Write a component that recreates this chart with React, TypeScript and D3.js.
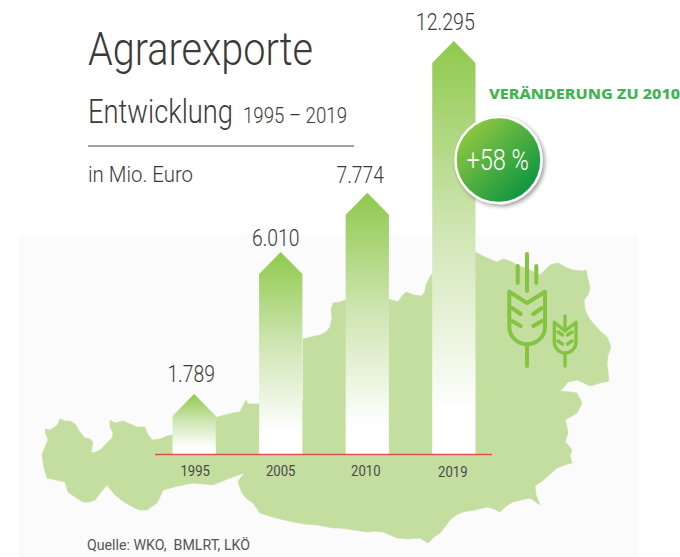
import React from "react";
import * as d3 from "d3";

const years = ["1995", "2005", "2010", "2019"];
const exportValues = [1789, 6010, 7774, 12295];
const valueLabels = ["1.789", "6.010", "7.774", "12.295"];
const changeLabel = "+58 %";

const mapOutline: [number, number][] = [
  [45,429],[50,430],[55,427],[58,424],[60,419],[65,421],[70,421],[75,424],[78,429],[80,432],[85,438],[90,439],[93,442],[92,447],[91,453],[96,452],[100,450],[104,446],[108,442],[112,438],[113,433],[110,427],[110,420],[115,423],[123,421],[130,424],[137,427],[145,427],[147,433],[152,440],[160,439],[167,436],[172,435],[217,417],[225,415],[233,413],[240,412],[243,406],[246,400],[248,404],[259,404],[303,401],[308,407],[307,420],[303,427],[303,339],[311,337],[320,335],[326,332],[330,327],[332,318],[331,310],[333,303],[340,302],[345,300],[389,299],[398,302],[402,296],[406,292],[414,295],[422,296],[425,291],[426,285],[431,275],[475,252],[485,257],[497,262],[503,259],[510,261],[517,265],[530,270],[540,275],[545,270],[550,265],[558,263],[565,267],[573,270],[582,271],[586,270],[588,279],[590,288],[588,295],[584,300],[585,310],[589,318],[593,323],[600,331],[607,337],[611,347],[608,355],[607,363],[608,372],[609,381],[600,383],[590,386],[584,383],[577,380],[568,382],[564,387],[560,391],[570,392],[577,393],[582,403],[579,409],[577,413],[565,420],[567,427],[568,433],[565,442],[569,446],[572,450],[570,456],[572,463],[565,465],[557,468],[547,477],[541,482],[535,486],[536,495],[540,505],[530,498],[521,500],[513,502],[506,506],[500,512],[494,509],[487,507],[475,510],[463,512],[456,515],[450,520],[445,527],[440,533],[434,537],[428,543],[420,538],[408,539],[397,538],[390,535],[383,532],[375,531],[367,532],[354,530],[340,528],[333,528],[317,525],[305,524],[293,522],[276,518],[260,513],[253,503],[247,499],[242,493],[238,482],[241,477],[245,473],[238,475],[230,478],[213,485],[203,484],[193,483],[178,486],[163,490],[160,497],[157,503],[147,510],[140,510],[133,507],[124,502],[115,495],[111,490],[107,485],[101,492],[95,500],[89,502],[83,502],[75,497],[68,492],[65,482],[56,480],[47,478],[44,468],[42,455],[45,447],[48,440],[46,434],
];

const W = 680;
const H = 557;
const x = d3.scaleBand<string>().domain(years).range([172.5, 475.5]).paddingInner(0.5).paddingOuter(0);
const y = d3.scaleLinear().domain([0, 12295]).range([454, 41]);
const shoulder = 22;
const narrow = "'Roboto', sans-serif";
const ink = "#3a3a3a";

const valueShift = [-3, -5, -7, -8.5];
const valueGap = [12, 6, 10, 11];
const tickShift = [1, 0, -1.5, -1];

const mapPath = d3.line().curve(d3.curveLinear)(mapOutline) + "Z";
const wheat = "#85c441";

function T(p: any) {
  const { len, children, ...rest } = p;
  return (
    <text fontFamily={narrow} fontWeight={300} fill={ink} textLength={len} lengthAdjust="spacingAndGlyphs" {...rest}>
      {children}
    </text>
  );
}

export default function App() {
  const bw = x.bandwidth();
  return (
    <svg width={W} height={H} viewBox={`0 0 ${W} ${H}`} style={{ position: "absolute", left: 0, top: 0, display: "block", background: "#fff" }}>
      <defs>
        <linearGradient id="bar" x1="0" y1="0" x2="0" y2="1">
          <stop offset="0" stopColor="#8fc94c" />
          <stop offset="0.45" stopColor="#cfe5b2" />
          <stop offset="0.9" stopColor="#ffffff" />
          <stop offset="1" stopColor="#ffffff" />
        </linearGradient>
        <linearGradient id="badge" x1="0.15" y1="0.15" x2="0.85" y2="0.85">
          <stop offset="0" stopColor="#8cc63f" />
          <stop offset="1" stopColor="#0f9640" />
        </linearGradient>
        <filter id="shadow" x="-20%" y="-20%" width="150%" height="150%">
          <feDropShadow dx="2" dy="2" stdDeviation="2" floodColor="#000" floodOpacity="0.4" />
        </filter>
      </defs>

      <rect x={19} y={235} width={619} height={322} fill="#fbfbfb" />
      <path d={mapPath} fill="#c4dea0" stroke="#c4dea0" strokeWidth={0.6} strokeLinejoin="round" />

      <g stroke={wheat} fill="none" strokeLinecap="round" strokeLinejoin="round">
        <g strokeWidth={4}>
          <path d="M527 254V291M517.7 266V283M536.3 266V283" />
          <path d="M509.3 291.7V327A17.7 17 0 0 0 545 327V291.7L527 303Z" />
          <path d="M512 308L520.7 314M512 321L520.7 326M542 308L533.3 314M542 321L533.3 326M527 344V366" />
        </g>
        <g strokeWidth={3.4}>
          <path d="M565 316V330" />
          <path d="M554.3 322.3V342A10.8 11 0 0 0 576 342V322.3L565 331Z" />
          <path d="M558 332L562.5 335M558 341L562.5 344M572 332L567.5 335M572 341L567.5 344M565 353V366" />
        </g>
      </g>

      {years.map((yr, i) => {
        const x0 = x(yr)!;
        const top = y(exportValues[i]);
        const d = d3.line()([
          [x0, y(0)],
          [x0, top + shoulder],
          [x0 + bw / 2, top],
          [x0 + bw, top + shoulder],
          [x0 + bw, y(0)],
        ]) + "Z";
        return <path key={yr} d={d} fill="url(#bar)" />;
      })}

      <line x1={155} x2={492} y1={454.5} y2={454.5} stroke="#ea4a50" strokeWidth={1.3} />

      {years.map((yr, i) => (
        <T key={yr} x={x(yr)! + bw / 2 + tickShift[i]} y={y(0) + (yr === "2019" ? 23 : 22)} fontSize={15.5} textAnchor="middle" len={29.5} fill="#4a4a4a" fontWeight={400}>
          {yr}
        </T>
      ))}
      {years.map((yr, i) => (
        <T key={yr + "v"} x={x(yr)! + bw / 2 + valueShift[i]} y={y(exportValues[i]) - valueGap[i]} fontSize={24} textAnchor="middle" len={i === 3 ? 59 : 47.5}>
          {valueLabels[i]}
        </T>
      ))}

      <T x={88} y={65} fontSize={47} len={225}>Agrarexporte</T>
      <T x={88} y={123} fontSize={33} len={145}>Entwicklung</T>
      <T x={243} y={123} fontSize={22} len={104}>1995 – 2019</T>
      <line x1={88} x2={354} y1={146} y2={146} stroke="#444" strokeWidth={1.2} />
      <T x={88} y={182} fontSize={22} len={105}>in Mio. Euro</T>
      <T x={87} y={550} fontSize={15} len={163} fill="#555" fontWeight={400} style={{ whiteSpace: "pre" }}>Quelle: WKO,  BMLRT, LKÖ</T>

      <text x={489} y={99} fontFamily="'Noto Sans', sans-serif" fontWeight={800} fontSize={13.5} fill="#3fb44f" textLength={191} lengthAdjust="spacingAndGlyphs">
        VERÄNDERUNG ZU 2010
      </text>

      <circle cx={498.5} cy={160} r={43} fill="url(#badge)" stroke="#fff" strokeWidth={2.5} filter="url(#shadow)" />
      <T x={466.5} y={170} fontSize={29} len={62.5} fill="#fff">{changeLabel}</T>
    </svg>
  );
}
